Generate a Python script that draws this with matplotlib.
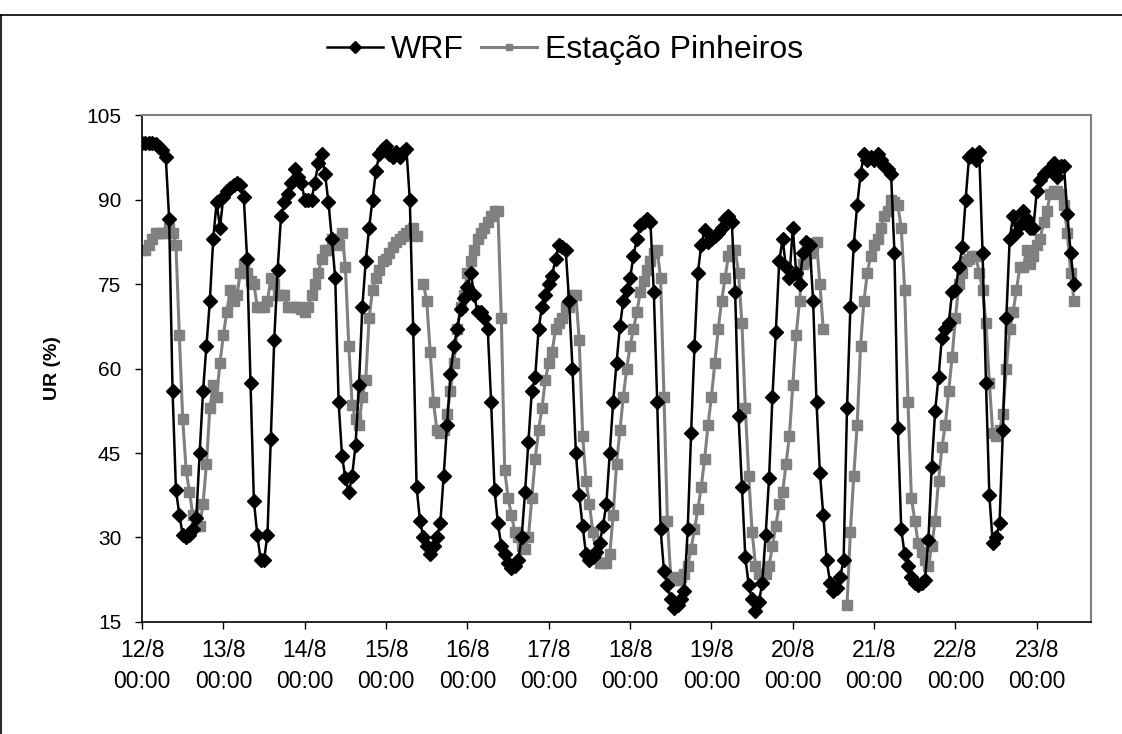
import numpy as np
import matplotlib
matplotlib.use("Agg")
import matplotlib.pyplot as plt
from matplotlib.lines import Line2D

plt.rcParams['font.family'] = ['Liberation Sans', 'DejaVu Sans']

nan = np.nan

# umidade relativa horaria (%), a partir de 12/8 00:00
wrf = [
    100, 100, 100, 100, 99.8, 99.4, 98.8, 97.5, 86.5, 56,
    38.5, 34, 30.5, 30, 30.5, 31.5, 33.5, 45, 56, 64,
    72, 83, 89.5, 85, 90.5, 91.5, 92, 92.5, 93, 92.5,
    90.5, 79.5, 57.5, 36.5, 30.5, 26, 26, 30.5, 47.5, 65,
    77.5, 87, 89.5, 91, 93, 95.5, 94, 93, 90, 90,
    90, 93, 96.5, 98, 94.5, 89.5, 83, 76, 54, 44.5,
    40.5, 38, 41, 46.5, 57, 71, 79, 85, 90, 95,
    98, 99, 99.5, 98, 97.5, 98.5, 97.5, 98.5, 99, 90,
    67, 39, 33, 30, 28.5, 27, 28.5, 30, 32.5, 41,
    50, 59, 64, 67, 70.5, 72.5, 74.5, 77, 73, 70,
    70, 69, 67, 54, 38.5, 32.5, 28.5, 27, 25.5, 24.5,
    25, 26, 30, 38, 47, 56, 58.5, 67, 71, 73,
    75, 76.5, 79.5, 82, 81.5, 81, 72, 60, 45, 37.5,
    32, 27, 26, 26.5, 27.5, 29, 32, 36, 45, 54,
    61, 67.5, 72, 74, 76, 80, 83, 85.5, 86, 86.5,
    86, 73.5, 54, 31.5, 24, 21.5, 19, 17.5, 18, 19,
    20.5, 31.5, 48.5, 64, 77, 82, 84.5, 82.5, 83, 83.5,
    84, 85, 86.5, 87, 86, 73.5, 51.5, 39, 26.5, 21.5,
    19, 17, 18.5, 22, 30.5, 40.5, 55, 66.5, 79, 83,
    78, 76, 85, 77, 75, 80.5, 82.5, 82, 72, 54,
    41.5, 34, 26, 22, 20.5, 21, 23, 26, 53, 71,
    82, 89, 94.5, 98, 97, 97.5, 97, 98, 97, 96,
    95.5, 94.5, 80.5, 49.5, 31.5, 27, 25, 23, 22, 21.5,
    22, 22.5, 29.5, 42.5, 52.5, 58.5, 65.5, 67, 68, 73.5,
    74, 78, 81.5, 90, 97.5, 98, 97, 98.5, 80.5, 57.5,
    37.5, 29, 30, 32.5, 49, 69, 83, 87, 84, 85.5,
    88, 86.5, 85, 85, 91.5, 93.5, 94.5, 95, 95.5, 96.5,
    94, 96, 96, 87.5, 80.5, 75,
]

estacao = [
    81, 81, 82, 83, 84, 84, 84, 84, 85, 84,
    82, 66, 51, 42, 38, 34, 32, 32, 36, 43,
    53, 57, 55, 61, 66, 70, 74, 72, 73, 77,
    78.5, 77, 75.5, 75, 71, 71, 71, 72, 76, 75,
    73, 73, 73, 71, 71, 71, 71, 70.5, 70, 71,
    73, 75, 77, 79.5, 81, 81, 83, 82.5, 82, 84,
    78, 64, 53.5, 51, 50, 55, 58, 69, 74, 76,
    77.5, 79, 79.5, 80.5, 81.5, 82.5, 83, 83.5, 84, 84.5,
    85, 83.5, nan, 75, 72, 63, 54, 49, 48.5, 49,
    52, 56, 61, 67, 71, 73, 77, 79, 81, 83,
    84, 85, 86, 87, 88, 88, 69, 42, 37, 34,
    31, 30, 28.5, 28, 30, 37, 44, 49, 53, 58,
    61, 63, 67, 68, 69, 71, 71, 73, 73, 65,
    48, 40, 36, 31, 27, 25.5, 25.5, 25.5, 27, 34,
    43, 49, 55, 60, 64, 67, 70, 73.5, 75.5, 77.5,
    79, 80.5, 81, 76, 55, 33, 23, 22.5, 22.5, 23,
    23.5, 25, 28, 31.5, 35, 39, 44, 50, 55, 61,
    67, 72, 76, 80, 81, 81, 77, 68, 53, 41,
    31, 25, 23.5, 23.5, 23.5, 25, 28.5, 32, 36, 38,
    43, 48, 57, 66, 72, 78.5, 79, 80.5, 81.5, 82.5,
    75, 67, nan, nan, nan, nan, nan, nan, 18, 31,
    41, 50, 64, 72, 77, 80, 82, 83, 85, 87,
    88, 90, 89.5, 89, 85, 74, 54, 37, 33, 29,
    27.5, 26, 25, 28.5, 33, 40, 46, 50, 56, 62,
    69, 75, 77, 79, 79.5, 80, 80, 77, 74, 68,
    57.5, 48.5, 48, 49, 52, 60, 67, 70, 74, 78,
    78, 81, 78.5, 80, 82, 83, 86, 88, 91, 91.5,
    91.5, 91, 89, 84, 77, 72,
]

dias = ['12/8', '13/8', '14/8', '15/8', '16/8', '17/8',
        '18/8', '19/8', '20/8', '21/8', '22/8', '23/8']

horas = np.arange(len(wrf))

fig = plt.figure(figsize=(11.22, 7.34), dpi=100)
ax = fig.add_axes([0.1266, 0.1526, 0.8458, 0.6907])

ax.plot(horas, estacao, color='#808080', lw=2.2, marker='s', ms=6.5,
        mec='#808080', mfc='#808080', zorder=2)
ax.plot(horas, wrf, color='black', lw=1.8, marker='D', ms=7.3,
        mec='black', mfc='black', zorder=3)

ax.set_xlim(0, 280)
ax.set_ylim(15, 105)
ax.set_yticks(np.arange(15, 106, 15))
ax.set_xticks(np.arange(0, 24 * len(dias), 24))
ax.set_xticklabels([d + '\n00:00' for d in dias], fontsize=16.5, linespacing=1.45)
ax.tick_params(axis='y', labelsize=15, direction='out', length=5, width=1, pad=10)
ax.tick_params(axis='x', direction='out', length=5, width=1, pad=7)
ax.set_ylabel('UR (%)', fontsize=14, fontweight='bold', labelpad=18)

for lado in ['top', 'right']:
    ax.spines[lado].set_color('#808080')
    ax.spines[lado].set_linewidth(1.5)
for lado in ['left', 'bottom']:
    ax.spines[lado].set_color('black')
    ax.spines[lado].set_linewidth(1.2)

handles = [
    Line2D([], [], color='black', lw=1.8, marker='D', ms=6.5),
    Line2D([], [], color='#808080', lw=2.2, marker='s', ms=5),
]
fig.legend(handles, ['WRF', 'Estação Pinheiros'], loc='center',
           bbox_to_anchor=(0.5036, 0.932), ncol=2, frameon=False, fontsize=23,
           handlelength=1.75, handletextpad=0.25, columnspacing=0.55)

# moldura externa
fig.add_artist(Line2D([0, 1], [1 - 15 / 734, 1 - 15 / 734], color='black', lw=1.2,
                      transform=fig.transFigure))
fig.add_artist(Line2D([0.001, 0.001], [0, 1 - 15 / 734], color='black', lw=1.2,
                      transform=fig.transFigure))

fig.savefig('out.png', dpi=100)
